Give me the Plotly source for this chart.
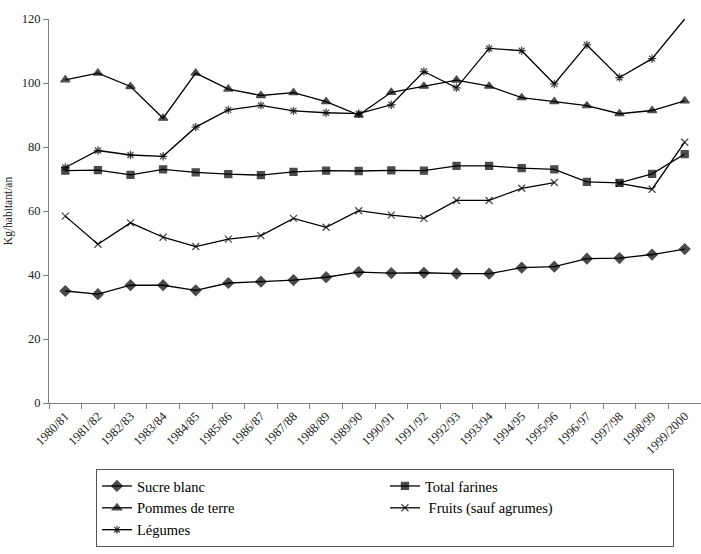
import plotly.graph_objects as go

years = ["1980/81", "1981/82", "1982/83", "1983/84", "1984/85", "1985/86", "1986/87",
         "1987/88", "1988/89", "1989/90", "1990/91", "1991/92", "1992/93", "1993/94",
         "1994/95", "1995/96", "1996/97", "1997/98", "1998/99", "1999/2000"]

sucre_blanc = [35.0, 34.0, 36.8, 36.8, 35.2, 37.5, 37.9, 38.4, 39.3, 40.9,
               40.6, 40.7, 40.4, 40.4, 42.3, 42.6, 45.1, 45.3, 46.4, 48.1]
total_farines = [72.6, 72.8, 71.3, 73.0, 72.1, 71.5, 71.2, 72.2, 72.6, 72.5,
                 72.7, 72.6, 74.1, 74.1, 73.4, 73.0, 69.1, 68.8, 71.6, 77.8]
pommes_de_terre = [101.0, 103.1, 98.9, 89.0, 103.1, 98.1, 96.1, 97.0, 94.2, 90.0,
                   97.1, 99.0, 100.9, 99.0, 95.4, 94.2, 92.9, 90.4, 91.4, 94.4]
fruits = [58.4, 49.6, 56.3, 51.8, 48.9, 51.2, 52.3, 57.7, 54.9, 60.1,
          58.7, 57.7, 63.3, 63.3, 67.1, 68.9, None, 68.6, 66.8, 81.5]
legumes = [73.6, 78.9, 77.5, 77.1, 86.2, 91.6, 93.0, 91.3, 90.7, 90.4,
           93.2, 103.6, 98.5, 110.8, 110.1, 99.7, 111.9, 101.7, 107.6, 120.0]

font_family = "Liberation Serif"

series = [
    ("Sucre blanc", sucre_blanc, "diamond", 8),
    ("Total farines", total_farines, "square", 7),
    ("Pommes de terre", pommes_de_terre, "triangle-up", 8),
    (" Fruits (sauf agrumes)", fruits, "x-thin-open", 7),
    ("Légumes", legumes, "asterisk-open", 7),
]

fig = go.Figure()
for name, vals, sym, size in series:
    sizes = [size] * len(vals)
    if name == "Légumes":
        sizes[-1] = 0
    fig.add_trace(go.Scatter(
        x=years, y=vals, name=name, mode="lines+markers",
        line=dict(color="black", width=1.3),
        marker=dict(symbol=sym, size=sizes, color="black",
                    line=dict(color="black", width=1.3)),
    ))

fig.update_layout(
    width=701, height=554,
    margin=dict(l=49, r=0, t=19, b=151),
    paper_bgcolor="white", plot_bgcolor="white",
    font=dict(family=font_family, size=12, color="#222222"),
    showlegend=True,
    legend=dict(
        orientation="h", x=0.072, y=-0.172, xanchor="left", yanchor="top",
        entrywidth=243, entrywidthmode="pixels",
        bordercolor="#555555", borderwidth=1,
        font=dict(family=font_family, size=14.5, color="black"),
        tracegroupgap=0, itemwidth=30,
    ),
    xaxis=dict(
        type="category", range=[-0.5, 19.5], tickangle=-45,
        tickson="boundaries", ticks="outside", ticklen=5, tickcolor="#808080",
        showline=True, linecolor="#808080", linewidth=1, showgrid=False,
        tickfont=dict(family=font_family, size=12.5),
    ),
    yaxis=dict(
        range=[0, 120], dtick=20, ticks="outside", ticklen=5, tickcolor="#808080",
        showline=True, linecolor="#808080", linewidth=1, showgrid=False, zeroline=False,
        tickfont=dict(family=font_family, size=12.5),
        title=dict(text="Kg/habitant/an", font=dict(family=font_family, size=11.5), standoff=6),
    ),
)

fig.write_html("out.html")
